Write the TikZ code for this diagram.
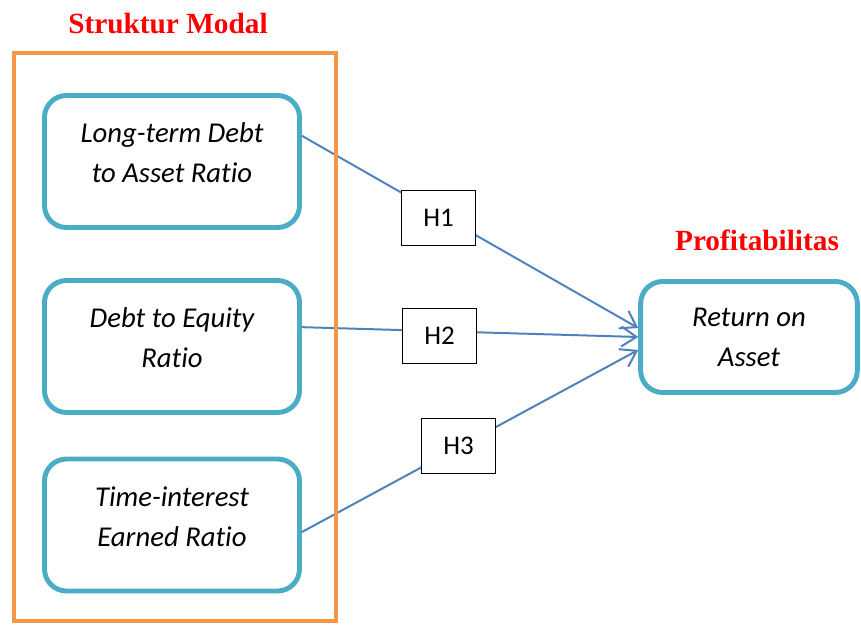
\documentclass[tikz,border=0pt]{standalone}
\usepackage{fontspec}
\setmainfont{Carlito}[Ligatures=NoCommon]
\newfontfamily\judulfont{Liberation Serif}
\usetikzlibrary{arrows.meta}

\definecolor{aqua}{HTML}{4BACC6}
\definecolor{oranye}{HTML}{F79646}
\definecolor{biru}{HTML}{4F81BD}

\tikzset{
  rasio/.style={draw=aqua, line width=4.2pt, rounded corners=0.66cm, fill=white,
    minimum width=7.65cm, minimum height=3.96cm, align=center,
    font=\fontsize{24.5}{34}\selectfont\itshape},
  naik/.style={text depth=0.52cm},
  hipotesis/.style={draw=black, line width=0.8pt, fill=white,
    minimum width=2.2cm, minimum height=1.63cm,
    font=\fontsize{23}{27}\selectfont},
  judul/.style={text=red, font=\fontsize{25}{30}\selectfont\judulfont\bfseries},
  panah/.style={draw=biru, line width=1.7pt, -{Straight Barb[length=4.5mm,width=6mm]}}
}

\begin{document}
\begin{tikzpicture}[x=0.03cm,y=-0.03cm]
          \useasboundingbox (0,0) rectangle (861,626);
          \node[judul] at (168,24) (sm) {Struktur Modal};
          \node[judul] at (757,240) (pr) {Profitabilitas};
          \node[rasio,naik] at (172,161.5) (ltdar) {Long-term Debt\\to Asset Ratio};
          \node[rasio,naik] at (172,346.5) (der) {Debt to Equity\\Ratio};
          \node[rasio,naik] at (172,525) (tier) {Time-interest\\Earned Ratio};
          \node[rasio, minimum width=6.5cm, minimum height=3.33cm] at (749,337) (roa) {Return on\\Asset};
          % garis pengaruh X ke Y
          \path[panah] ([yshift=0.77cm]ltdar.east) -- ([yshift=0.27cm]roa.west);
          \path[panah] ([yshift=0.58cm]der.east) -- (roa.west);
          \path[panah] ([yshift=-0.21cm]tier.east) -- ([yshift=-0.39cm]roa.west);
          \node[hipotesis] at (438.5,218) (h1) {H1};
          \node[hipotesis] at (439.5,336) (h2) {H2};
          \node[hipotesis] at (458.5,446) (h3) {H3};
          % bingkai struktur modal
          \draw[oranye, line width=3.4pt] (14,53) rectangle (336,621);
        \end{tikzpicture}
\end{document}
